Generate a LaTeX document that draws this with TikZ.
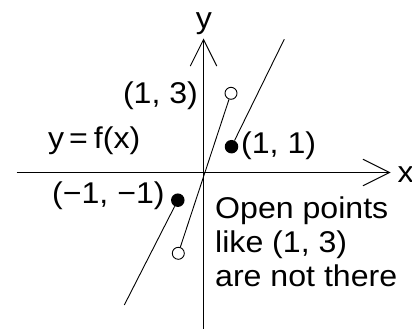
\documentclass[tikz,border=0pt]{standalone}
\usepackage{fontspec}
\setmainfont{Liberation Sans}[FakeStretch=1.07]
\usetikzlibrary{arrows.meta}
\begin{document}
\begin{tikzpicture}[x=1pt,y=-1pt,
  axis/.style={line width=1pt,-{Straight Barb[length=26.5pt,width=26.5pt,line width=1pt]}},
  fline/.style={line width=0.9pt},
  opendot/.style={circle,draw,line width=0.9pt,fill=white,minimum size=12pt,inner sep=0pt},
  closeddot/.style={circle,fill=black,minimum size=13.5pt,inner sep=0pt},
  lbl/.style={inner sep=0pt,font=\fontsize{30}{34}\selectfont},
]
\path[use as bounding box] (0,0) rectangle (412,329);
% axes
\coordinate (xl) at (16.7,172.5);
\coordinate (xr) at (390.5,172.5);
\coordinate (yb) at (203.5,330);
\coordinate (yt) at (203.5,38.5);
\draw[axis] (xl) -- (xr);
\draw[axis] (yb) -- (yt);
\node[lbl,anchor=base] (ylab) at (204,29) {y};
\node[lbl,anchor=base west] (xlab) at (397.5,182.3) {x};
% points
\node[opendot] (ot) at (231,93.3) {};
\node[opendot] (ob) at (178.3,253.3) {};
\node[closeddot] (c1) at (231.5,146.7) {};
\node[closeddot] (c2) at (177.8,200.2) {};
\coordinate (ue) at (284.3,39.2);
\coordinate (le) at (124.3,305);
\draw[fline] (ob) -- (ot);
\draw[fline] (c1) -- (ue);
\draw[fline] (c2) -- (le);
% labels
\node[lbl,anchor=base west] (l13) at (122.8,103.3) {(1, 3)};
\node[lbl,anchor=base west] (l11) at (241,153.3) {(1, 1)};
\node[lbl,anchor=base west] (lmm) at (52,203.3) {(−1, −1)};
\node[lbl,anchor=base west] (lf) at (48,148.3) {y\hspace{5pt}=\hspace{6pt}f(x)};
\node[lbl,anchor=base west,align=left] (note) at (215,286.5) {Open points\\like (1, 3)\\are not there};
\end{tikzpicture}
\end{document}
